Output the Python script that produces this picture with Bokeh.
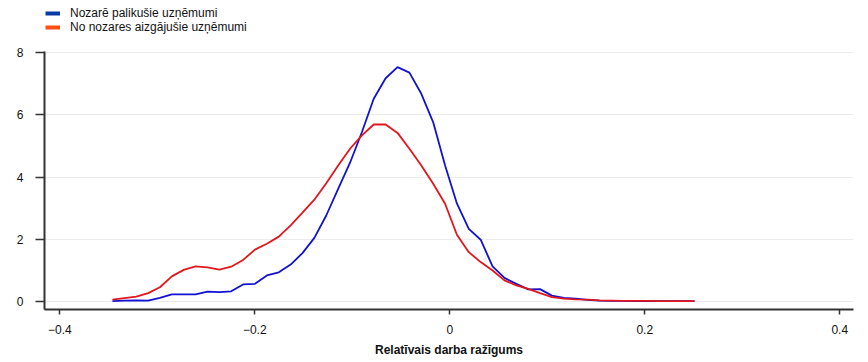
from bokeh.plotting import figure
from bokeh.models import (Range1d, FixedTicker, CustomJSTickFormatter, Legend, LegendItem)
from bokeh.embed import file_html
from bokeh.resources import INLINE

# ---- data ----
x_grid = [-0.3460, -0.3338, -0.3216, -0.3094, -0.2973, -0.2851, -0.2729, -0.2607, -0.2485, -0.2363,
          -0.2242, -0.2120, -0.1998, -0.1876, -0.1754, -0.1632, -0.1511, -0.1389, -0.1267, -0.1145,
          -0.1023, -0.0901, -0.0780, -0.0658, -0.0536, -0.0414, -0.0292, -0.0170, -0.0048, 0.0073,
          0.0195, 0.0317, 0.0439, 0.0561, 0.0683, 0.0804, 0.0926, 0.1048, 0.1170, 0.1292,
          0.1414, 0.1535, 0.1657, 0.1779, 0.1901, 0.2023, 0.2145, 0.2266, 0.2388, 0.2510]

stayed = [0.00, 0.02, 0.03, 0.02, 0.11, 0.22, 0.22, 0.22, 0.31, 0.29,
          0.32, 0.54, 0.56, 0.83, 0.93, 1.18, 1.55, 2.04, 2.76, 3.62,
          4.46, 5.45, 6.52, 7.18, 7.54, 7.36, 6.68, 5.76, 4.37, 3.15,
          2.33, 1.98, 1.12, 0.75, 0.56, 0.38, 0.39, 0.18, 0.11, 0.08,
          0.04, 0.02, 0.01, 0.01, 0.00, 0.00, 0.00, 0.00, 0.00, 0.00]

exited = [0.05, 0.10, 0.15, 0.26, 0.45, 0.80, 1.01, 1.12, 1.09, 1.02,
          1.11, 1.33, 1.66, 1.85, 2.08, 2.44, 2.85, 3.27, 3.80, 4.37,
          4.91, 5.34, 5.69, 5.69, 5.42, 4.91, 4.37, 3.78, 3.14, 2.14,
          1.58, 1.26, 0.99, 0.67, 0.51, 0.40, 0.26, 0.13, 0.08, 0.06,
          0.05, 0.03, 0.02, 0.01, 0.01, 0.01, 0.00, 0.00, 0.00, 0.00]

series_labels = ["Nozarē palikušie uzņēmumi", "No nozares aizgājušie uzņēmumi"]
x_ticks = [-0.4, -0.2, 0.0, 0.2, 0.4]
x_tick_labels = ["\u22120.4", "\u22120.2", "0", "0.2", "0.4"]
y_ticks = [0, 2, 4, 6, 8]
x_title = "Relatīvais darba ražīgums"

FONT = "Liberation Sans"

# frame extends to the top of the page so that the legend (above the axis) is not clipped
p = figure(width=868, height=362, output_backend="svg", toolbar_location=None,
           x_range=Range1d(-0.4157, 0.4141), y_range=Range1d(-0.267, 9.684),
           min_border_left=44, min_border_right=15, min_border_top=0, min_border_bottom=53)
p.outline_line_color = None
p.background_fill_color = "white"

# curves
p.line(x_grid, stayed, line_color="#1212d2", line_width=1.8)
p.line(x_grid, exited, line_color="#e2161c", line_width=1.8)

# legend-only renderers (the swatches have their own colours in the reference);
# their single point lies outside the visible ranges
r1 = p.line([-9.0, -9.0], [-9.0, -9.0], line_color="#0a3aa6", line_width=4)
r2 = p.line([-9.0, -9.0], [-9.0, -9.0], line_color="#ff4e14", line_width=4)
legend = Legend(items=[LegendItem(label=series_labels[0], renderers=[r1]),
                       LegendItem(label=series_labels[1], renderers=[r2])],
                location=(1, 275), orientation="vertical",
                glyph_width=15, glyph_height=14, label_height=14, label_standoff=10,
                padding=0, spacing=0, margin=0,
                border_line_alpha=0, background_fill_alpha=0,
                label_text_font=FONT, label_text_font_size="12px", label_text_color="#111111")
p.add_layout(legend, "center")

# axes
xa = p.xaxis[0]
xa.ticker = FixedTicker(ticks=x_ticks)
xa.formatter = CustomJSTickFormatter(args=dict(t=x_ticks, l=x_tick_labels), code="""
    for (let i = 0; i < t.length; i++) { if (Math.abs(t[i] - tick) < 1e-9) return l[i]; }
    return String(tick);
""")
xa.axis_label = x_title
xa.axis_label_text_font = FONT
xa.axis_label_text_font_style = "bold"
xa.axis_label_text_font_size = "12px"
xa.axis_label_text_color = "#111111"
xa.axis_label_standoff = 6
xa.major_label_standoff = 10
xa.major_tick_out = 5
xa.major_tick_in = 0
xa.minor_tick_out = 0
xa.minor_tick_in = 0

ya = p.yaxis[0]
ya.ticker = FixedTicker(ticks=y_ticks)
ya.bounds = (-0.267, 8.042)
ya.major_label_standoff = 12
ya.major_tick_out = 9
ya.major_tick_in = 0
ya.minor_tick_out = 0
ya.minor_tick_in = 0

for ax in (xa, ya):
    ax.axis_line_color = "#333333"
    ax.axis_line_width = 2
    ax.major_tick_line_color = "#333333"
    ax.major_tick_line_width = 1.5
    ax.major_label_text_font = FONT
    ax.major_label_text_font_size = "12px"
    ax.major_label_text_color = "#111111"

p.xgrid.grid_line_color = None
p.ygrid.grid_line_color = "#ececec"
p.ygrid.grid_line_width = 1

open("out.html", "w").write(file_html(p, INLINE))
